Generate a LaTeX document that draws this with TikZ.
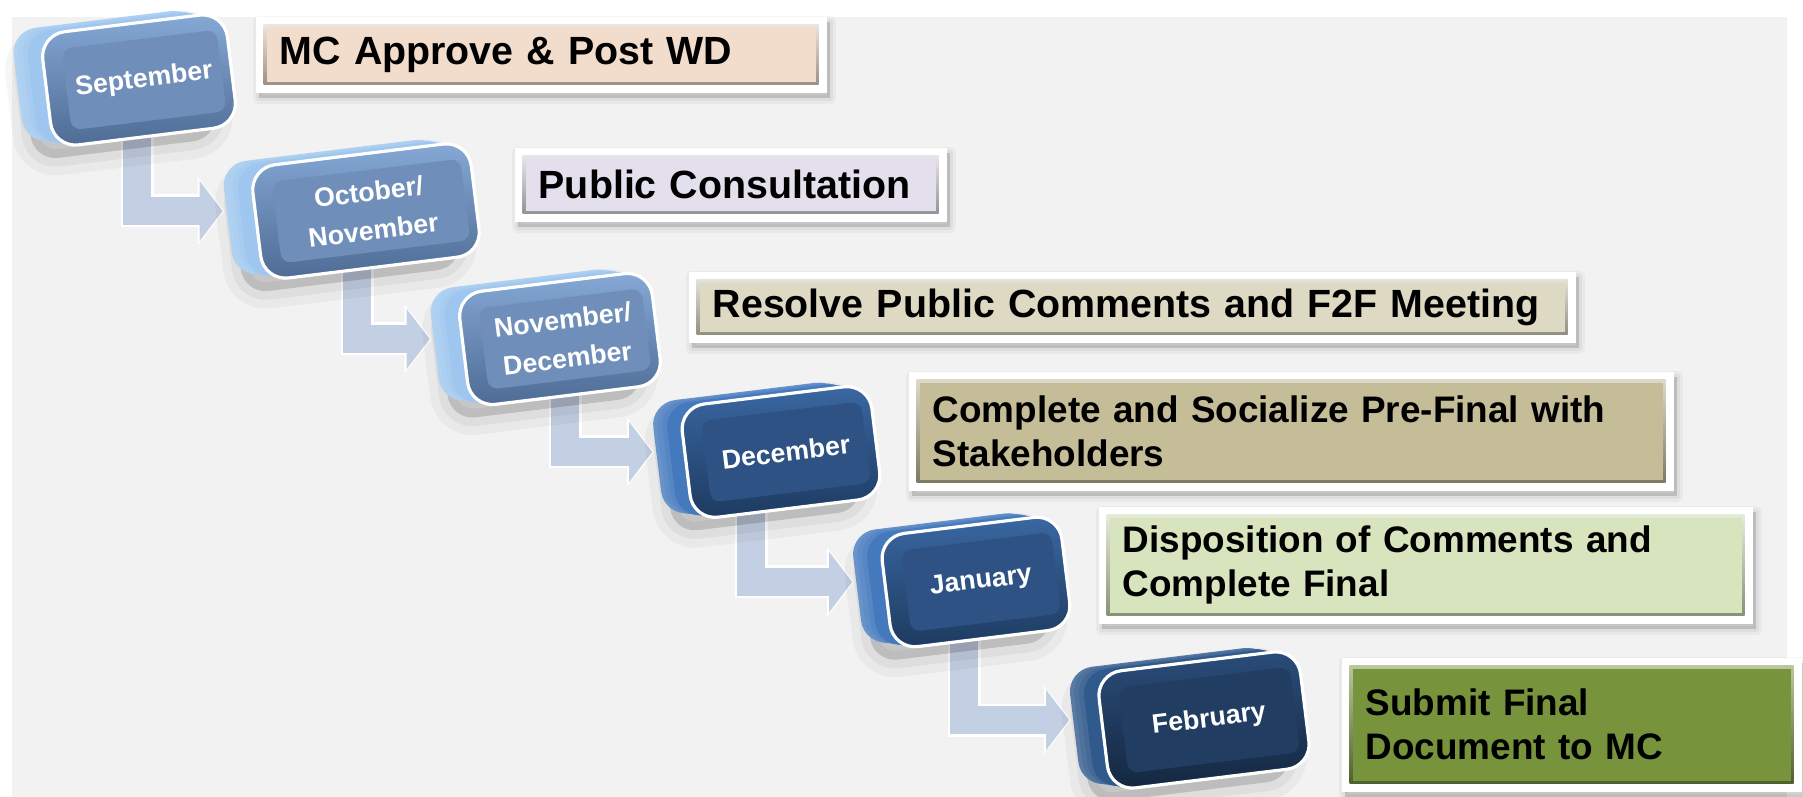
\documentclass[tikz,border=0pt]{standalone}
\usepackage{fontspec}
\setmainfont{Liberation Sans}
\usetikzlibrary{arrows.meta}

\definecolor{papergray}{HTML}{F2F2F2}
\definecolor{stepblue}{HTML}{C3CFE2}
\definecolor{lightside}{HTML}{9EC6EE}
\definecolor{lighttop}{HTML}{86A9D6}
\definecolor{lightbot}{HTML}{4D6B93}
\definecolor{lightpanel}{HTML}{6F8FBA}
\definecolor{midside}{HTML}{4479BD}
\definecolor{midtop}{HTML}{3A68A3}
\definecolor{midbot}{HTML}{1D3A5F}
\definecolor{midpanel}{HTML}{2D5283}
\definecolor{darkside}{HTML}{30598C}
\definecolor{darktop}{HTML}{2B4D7B}
\definecolor{darkbot}{HTML}{14273F}
\definecolor{darkpanel}{HTML}{223D62}
\definecolor{mcfill}{HTML}{F2DCCB}
\definecolor{pubfill}{HTML}{E4DFEC}
\definecolor{resfill}{HTML}{DDD9C3}
\definecolor{compfill}{HTML}{C4BD97}
\definecolor{dispfill}{HTML}{D7E4BD}
\definecolor{subfill}{HTML}{77933C}

\pgfdeclarelayer{paper}
\pgfdeclarelayer{links}
\pgfsetlayers{paper,links,main}

\tikzset{
    softshadow/.style n args={3}{
        preaction={fill=black, draw=black, opacity=0.035, line width=#3, line join=round,
            transform canvas={xshift=#1, yshift=#2}},
        preaction={fill=black, draw=black, opacity=0.045, line width=0.5*#3, line join=round,
            transform canvas={xshift=#1, yshift=#2}},
        preaction={fill=black, opacity=0.07, transform canvas={xshift=#1, yshift=#2}}},
    keyface/.style={rectangle, rounded corners=2.5mm, rotate=7, inner sep=0pt,
        minimum height=1.14cm, draw=white, line width=0.9pt,
        softshadow={-2mm}{-1.3mm}{3.5mm}},
    keybody/.style={
        preaction={fill=#1!80!white, transform canvas={xshift=-2.9mm, yshift=0.4mm}},
        preaction={fill=#1!85!white, transform canvas={xshift=-2.5mm, yshift=0.35mm}},
        preaction={fill=#1!90!white, transform canvas={xshift=-2.0mm, yshift=0.3mm}},
        preaction={fill=#1, transform canvas={xshift=-1.5mm, yshift=0.2mm}},
        preaction={fill=#1, transform canvas={xshift=-0.8mm, yshift=0.1mm}}},
    lightkey/.style={keyface, keybody=lightside, top color=lighttop, bottom color=lightbot},
    midkey/.style={keyface, keybody=midside, top color=midtop, bottom color=midbot},
    darkkey/.style={keyface, keybody=darkside, top color=darktop, bottom color=darkbot},
    keypanel/.style={rectangle, rounded corners=1mm, rotate=7, inner sep=0pt,
        minimum height=0.82cm, fill=#1, text=white, align=center,
        font=\bfseries\fontsize{7.6}{11}\selectfont},
    notebox/.style={rectangle, fill=white, anchor=north west, inner xsep=2.4mm,
        inner ysep=0pt, align=left, font=\bfseries\fontsize{11.2}{12.5}\selectfont,
        softshadow={0.3mm}{-0.5mm}{1.2mm},
        path picture={
            \shade[top color=#1!45!white, bottom color=#1!60!black]
                ([shift={(0.8mm,-0.8mm)}]path picture bounding box.north west) rectangle
                ([shift={(-0.8mm,0.8mm)}]path picture bounding box.south east);
            \fill[#1]
                ([shift={(1.1mm,-1.1mm)}]path picture bounding box.north west) rectangle
                ([shift={(-1.1mm,1.1mm)}]path picture bounding box.south east);
        }},
    twoline/.style={font=\bfseries\fontsize{10.5}{12.5}\selectfont},
    steparrow/.style={draw=stepblue, line width=2.8mm, line join=miter,
        -{Triangle[length=2.3mm, width=5.9mm]}, shorten >=3.1mm,
        preaction={draw=white, line width=3.3mm, line join=miter,
            -{Triangle[length=2.7mm, width=6.7mm]}, shorten >=2.9mm}}
}

\begin{document}
\begin{tikzpicture}
        \useasboundingbox (0,0) rectangle (18.03,7.97);

        % Grey page
        \begin{pgfonlayer}{paper}
            \fill[papergray] (0.12,0) rectangle (17.87,7.80);
        \end{pgfonlayer}

        % Define the month keys
        \node[lightkey, minimum width=1.86cm] (sepkey) at (1.39,7.17) {};
        \node[keypanel=lightpanel, minimum width=1.56cm] (sep) at ([xshift=0.5mm]sepkey.center) {September};

        \node[lightkey, minimum width=2.20cm] (octkey) at (3.66,5.86) {};
        \node[keypanel=lightpanel, minimum width=1.90cm] (oct) at ([xshift=0.5mm]octkey.center) {October/\\November};

        \node[lightkey, minimum width=1.94cm] (novkey) at (5.60,4.58) {};
        \node[keypanel=lightpanel, minimum width=1.64cm] (nov) at ([xshift=0.5mm]novkey.center) {November/\\December};

        \node[midkey, minimum width=1.91cm] (deckey) at (7.81,3.45) {};
        \node[keypanel=midpanel, minimum width=1.61cm] (dec) at ([xshift=0.5mm]deckey.center) {December};

        \node[midkey, minimum width=1.81cm] (jankey) at (9.76,2.15) {};
        \node[keypanel=midpanel, minimum width=1.51cm] (jan) at ([xshift=0.5mm]jankey.center) {January};

        \node[darkkey, minimum width=2.03cm, minimum height=1.18cm] (febkey) at (12.04,0.77) {};
        \node[keypanel=darkpanel, minimum width=1.73cm, minimum height=0.86cm] (feb) at ([xshift=0.5mm]febkey.center) {February};

        % Step arrows between the keys
        \begin{pgfonlayer}{links}
            \draw[steparrow] ([xshift=-0.2mm]sepkey.center) |- (octkey);
            \draw[steparrow] ([xshift=-0.9mm]octkey.center) |- (novkey);
            \draw[steparrow] ([xshift=0.5mm]novkey.center) |- (deckey);
            \draw[steparrow] ([xshift=-3.0mm]deckey.center) |- (jankey);
            \draw[steparrow] ([xshift=-1.2mm]jankey.center) |- (febkey);
        \end{pgfonlayer}

        % Annotations for each step
        \node[notebox=mcfill, text width=5.23cm, minimum height=0.76cm] (mc) at (2.55,7.81) {MC Approve \& Post WD};
        \node[notebox=pubfill, text width=3.84cm, minimum height=0.74cm] (pub) at (5.14,6.50) {Public Consultation};
        \node[notebox=resfill, text width=8.39cm, minimum height=0.71cm] (res) at (6.88,5.26) {Resolve Public Comments and F2F Meeting};
        \node[notebox=compfill, twoline, text width=7.17cm, minimum height=1.19cm] (comp) at (9.08,4.26) {Complete and Socialize Pre-Final with\\Stakeholders};
        \node[notebox=dispfill, twoline, text width=6.06cm, minimum height=1.17cm] (disp) at (10.98,2.91) {Disposition of Comments and\\Complete Final};
        \node[notebox=subfill, twoline, text width=4.12cm, minimum height=1.34cm] (sub) at (13.41,1.40) {Submit Final\\Document to MC};

    \end{tikzpicture}
\end{document}
